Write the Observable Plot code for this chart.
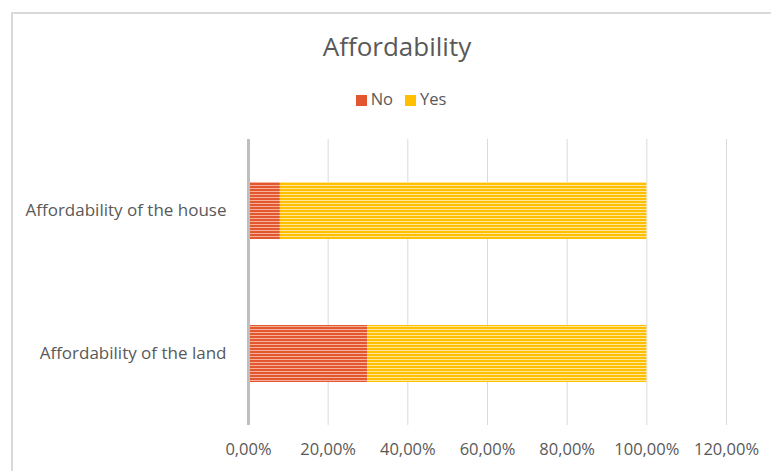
<!DOCTYPE html>
<html>
<head>
<meta charset="utf-8">
<script src="https://cdn.jsdelivr.net/npm/d3@7"></script>
<script src="https://cdn.jsdelivr.net/npm/@observablehq/plot@0.6"></script>
<style>
  html, body { margin: 0; padding: 0; background: #fff; }
  #wrap { position: relative; width: 771px; height: 471px; overflow: hidden; font-family: "Open Sans", Lato, sans-serif; color: #595959; }
  #frame { position: absolute; left: 11px; top: 12px; width: 800px; height: 500px; border-left: 2px solid #d9d9d9; border-top: 2px solid #d9d9d9; box-sizing: border-box; }
  #title { position: absolute; left: 0; width: 794px; top: 28px; text-align: center; font-size: 26px; color: #595959; }
  #legend { position: absolute; left: 0; width: 802px; top: 87px; text-align: center; font-size: 16.5px; color: #595959; }
  #legend span.sw { display: inline-block; width: 11px; height: 11px; margin-right: 4px; vertical-align: -1px; }
  #legend span.item { margin: 0 6px; }
  #chart { position: absolute; left: 0; top: 0; }
</style>
</head>
<body>
<div id="wrap">
  <div id="frame"></div>
  <div id="chart"></div>
  <div id="title">Affordability</div>
  <div id="legend"></div>
</div>
<script>
const categories = ["Affordability of the house", "Affordability of the land"];
const series = ["No", "Yes"];
const noValues = [0.08, 0.30];
const yesValues = [0.92, 0.70];
const xTicks = [0, 0.2, 0.4, 0.6, 0.8, 1.0, 1.2];
const seriesColors = ["#E2572F", "#FFC000"];
const seriesLight = ["#F5B199", "#FFE69A"];

const data = [];
categories.forEach((c, i) => {
  data.push({category: c, answer: "No", value: noValues[i]});
  data.push({category: c, answer: "Yes", value: yesValues[i]});
});

const fmt = v => (v * 100).toFixed(2).replace(".", ",") + "%";

const chart = Plot.plot({
  width: 771,
  height: 471,
  marginLeft: 248,
  marginRight: 45,
  marginTop: 139,
  marginBottom: 46,
  style: {fontFamily: "'Open Sans', Lato, sans-serif", fontSize: "16px", color: "#595959", background: "transparent"},
  x: {domain: [0, 1.2], ticks: xTicks, tickFormat: fmt, label: null},
  y: {domain: categories, paddingInner: 0.6, paddingOuter: 0.3, label: null},
  color: {domain: series, range: ["url(#stripeNo)", "url(#stripeYes)"]},
  marks: [
    Plot.gridX(xTicks.slice(1), {stroke: "#d9d9d9", strokeOpacity: 1, strokeWidth: 1}),
    Plot.barX(data, Plot.stackX({y: "category", x: "value", fill: "answer", order: series})),
    Plot.ruleX([0], {stroke: "#bfbfbf", strokeWidth: 3}),
    Plot.axisX({ticks: xTicks, tickFormat: fmt, tickSize: 0, tickPadding: 18, fontSize: 16.5, fill: "#595959", label: null}),
    Plot.axisY({tickSize: 0, tickPadding: 22, fontSize: 17, fill: "#595959", label: null})
  ]
});

// stripe patterns
const ns = "http://www.w3.org/2000/svg";
const defs = document.createElementNS(ns, "defs");
series.forEach((s, i) => {
  const p = document.createElementNS(ns, "pattern");
  p.setAttribute("id", "stripe" + s);
  p.setAttribute("patternUnits", "userSpaceOnUse");
  p.setAttribute("width", 6);
  p.setAttribute("height", 3);
  const r1 = document.createElementNS(ns, "rect");
  r1.setAttribute("width", 6); r1.setAttribute("height", 3); r1.setAttribute("fill", seriesColors[i]);
  const r2 = document.createElementNS(ns, "rect");
  r2.setAttribute("y", 2); r2.setAttribute("width", 6); r2.setAttribute("height", 1); r2.setAttribute("fill", seriesLight[i]);
  p.appendChild(r1); p.appendChild(r2);
  defs.appendChild(p);
});
chart.insertBefore(defs, chart.firstChild);
document.getElementById("chart").appendChild(chart);

// legend
const leg = document.getElementById("legend");
series.forEach((s, i) => {
  const item = document.createElement("span");
  item.className = "item";
  const sw = document.createElement("span");
  sw.className = "sw";
  sw.style.background = seriesColors[i];
  item.appendChild(sw);
  item.appendChild(document.createTextNode(s));
  leg.appendChild(item);
});
</script>
</body>
</html>
